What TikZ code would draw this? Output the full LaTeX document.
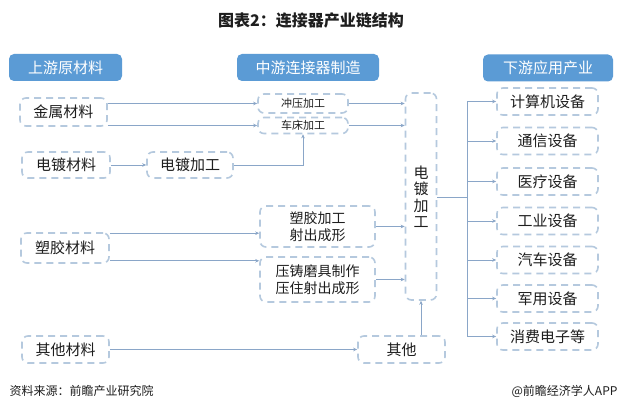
\documentclass[tikz,border=0pt]{standalone}
\usepackage{fontspec}
\setmainfont{Noto Sans CJK SC}
\usetikzlibrary{arrows.meta,calc}
\definecolor{hfill}{HTML}{5B9BD5}
\definecolor{bcol}{HTML}{B5C9DE}
\definecolor{acol}{HTML}{8AA6C8}
\definecolor{tcol}{HTML}{1E1E1E}
\tikzset{
  hdr/.style={fill=hfill, rounded corners=5pt, text=white, font=\fontsize{15}{17}\selectfont, inner sep=0pt, minimum height=27pt},
  dbox/.style={draw=bcol, line width=1.6pt, dash pattern=on 7pt off 5pt, rounded corners=6pt, text=tcol, inner sep=0pt, font=\fontsize{15}{17}\selectfont, align=center},
  arr/.style={draw=acol, line width=0.8pt, -{Stealth[length=4pt,width=3.5pt]}},
  ln/.style={draw=acol, line width=0.8pt},
}
\begin{document}
\begin{tikzpicture}[x=1pt,y=-1pt]
\useasboundingbox (0,0) rectangle (622,411);
\fill[white] (0,0) rectangle (622,411);
% title
\node[font=\fontsize{16}{18}\selectfont\bfseries, text=tcol] (title) at (311,20) {图表2：连接器产业链结构};
% headers
\node[hdr, minimum width=113pt] (hup) at (65.5,67.5) {上游原材料};
\node[hdr, minimum width=142pt] (hmid) at (308,67.5) {中游连接器制造};
\node[hdr, minimum width=130pt] (hdown) at (548,68) {下游应用产业};
% upstream
\node[dbox, minimum width=87pt, minimum height=28pt] (m1) at (63.5,112) {金属材料};
\node[dbox, minimum width=88pt, minimum height=26pt] (m2) at (66,165) {电镀材料};
\node[dbox, minimum width=86pt, minimum height=26pt] (p1) at (190,165) {电镀加工};
\node[dbox, minimum width=88pt, minimum height=30pt] (m3) at (65,248) {塑胶材料};
\node[dbox, minimum width=87pt, minimum height=27pt] (m4) at (65.5,349.5) {其他材料};
\node[dbox, minimum width=87pt, minimum height=27pt] (oth) at (401.5,349.5) {其他};
% midstream
\node[dbox, minimum width=90pt, minimum height=19pt, font=\fontsize{11}{13}\selectfont] (c1) at (303,103.5) {冲压加工};
\node[dbox, minimum width=90pt, minimum height=16pt, font=\fontsize{11}{13}\selectfont] (c2) at (303,125.5) {车床加工};
\node[dbox, minimum width=115pt, minimum height=41pt, font=\fontsize{14}{17}\selectfont] (s1) at (317.5,226.5) {塑胶加工\\射出成形};
\node[dbox, minimum width=115pt, minimum height=45pt, font=\fontsize{14}{17}\selectfont] (s2) at (317.5,279.5) {压铸磨具制作\\压住射出成形};
\node[dbox, minimum width=31pt, minimum height=207pt, font=\fontsize{15}{16.5}\selectfont] (big) at (421,196.5) {电\\镀\\加\\工};
% downstream
\node[dbox, minimum width=101pt, minimum height=27pt] (r1) at (547.5,101.5) {计算机设备};
\node[dbox, minimum width=101pt, minimum height=27pt] (r2) at (547.5,141) {通信设备};
\node[dbox, minimum width=101pt, minimum height=27pt] (r3) at (547.5,181.5) {医疗设备};
\node[dbox, minimum width=101pt, minimum height=27pt] (r4) at (547.5,221) {工业设备};
\node[dbox, minimum width=101pt, minimum height=27pt] (r5) at (547.5,260) {汽车设备};
\node[dbox, minimum width=101pt, minimum height=27pt] (r6) at (547.5,298.5) {军用设备};
\node[dbox, minimum width=101pt, minimum height=27pt] (r7) at (547.5,336.5) {消费电子等};
% footer
\node[anchor=west, font=\fontsize{12}{14}\selectfont, text=tcol] (src) at (6,391) {资料来源：前瞻产业研究院};
\node[anchor=east, font=\fontsize{12}{14}\selectfont, text=tcol] (app) at (621,391) {@前瞻经济学人APP};
% connectors
\coordinate (m3a) at ([yshift=-1pt]m3.north east);
\coordinate (m3b) at ([yshift=3pt]m3.south east);
\draw[arr] (m1.east |- c1.west) -- (c1.west);
\draw[arr] (m1.east |- c2.west) -- (c2.west);
\draw[arr] (m2.east) -- (p1.west);
\draw[arr] (p1.east) -| (c2.south);
\draw[arr] (c1.east) -- (big.west |- c1.east);
\draw[arr] (c2.east) -- (big.west |- c2.east);
\draw[arr] (m3a) -- (s1.west |- m3a);
\draw[arr] (m3b) -- (s2.west |- m3b);
\draw[arr] (s1.east) -- (big.west |- s1.east);
\draw[arr] (s2.east) -- (big.west |- s2.east);
\draw[arr] (m4.east) -- (oth.west);
\draw[arr] (oth.north -| big.south) -- (big.south);
\coordinate (bus) at (467,197);
\draw[ln] (big.east |- bus) -- (bus);
\draw[ln] (bus |- r1.west) -- (bus |- r7.west);
\foreach \r in {r1,r2,r3,r4,r5,r6,r7}{
  \draw[arr] (bus |- \r.west) -- (\r.west);
}
\end{tikzpicture}
\end{document}
